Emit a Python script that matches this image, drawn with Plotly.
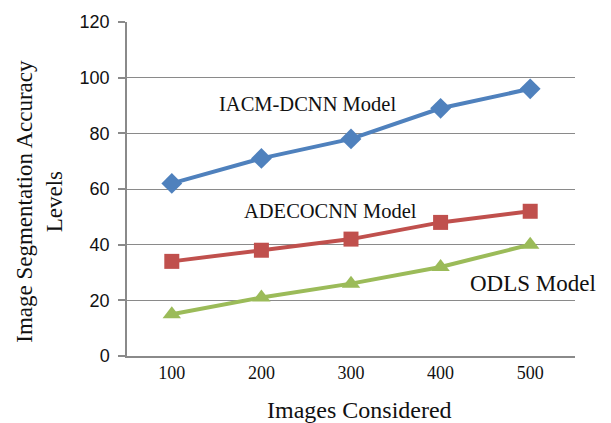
import plotly.graph_objects as go

# Images considered (x categories) and segmentation accuracy per model
images = ["100", "200", "300", "400", "500"]
iacm_dcnn = [62, 71, 78, 89, 96]
adecocnn = [34, 38, 42, 48, 52]
odls = [15, 21, 26, 32, 40]

y_ticks = [0, 20, 40, 60, 80, 100, 120]

SERIF = "Liberation Serif, Times New Roman, serif"
SANS = "Liberation Sans, Arial, sans-serif"
AXIS_GREY = "#8a8a8a"

fig = go.Figure()

series = [
    ("IACM-DCNN Model", iacm_dcnn, "#4F81BD", "diamond", 16),
    ("ADECOCNN Model", adecocnn, "#C0504D", "square", 15),
    ("ODLS Model", odls, "#9BBB59", "triangle-up", 16),
]
for name, vals, color, symbol, size in series:
    fig.add_trace(go.Scatter(
        x=images, y=vals, name=name, mode="lines+markers",
        line=dict(color=color, width=4),
        marker=dict(symbol=symbol, size=size, color=color),
    ))

# In-chart series labels
fig.add_annotation(x=1.51, y=90.5, text="IACM-DCNN Model", showarrow=False,
                   font=dict(family=SERIF, size=20.5, color="#111"))
fig.add_annotation(x=1.77, y=52, text="ADECOCNN Model", showarrow=False,
                   font=dict(family=SERIF, size=20.5, color="#111"))
fig.add_annotation(x=4.03, y=26, text="ODLS Model", showarrow=False,
                   font=dict(family=SERIF, size=23, color="#111"))

# Axis titles
fig.add_annotation(xref="paper", yref="paper", x=0.52, y=-0.163,
                   text="Images Considered", showarrow=False,
                   xanchor="center", yanchor="middle",
                   font=dict(family=SERIF, size=24, color="#111"))
fig.add_annotation(xref="paper", yref="paper", x=-0.197, y=0.464,
                   text="Image Segmentation Accuracy<br>Levels", showarrow=False,
                   textangle=-90, xanchor="center", yanchor="middle",
                   font=dict(family=SERIF, size=23, color="#111"))

fig.update_layout(
    width=611, height=423,
    margin=dict(l=127, r=36, t=20, b=67),
    paper_bgcolor="white", plot_bgcolor="white",
    showlegend=False,
    font=dict(family=SERIF, size=15, color="#111"),
)
fig.update_xaxes(
    type="category", range=[-0.5, 4.5],
    showgrid=False, showline=True, linecolor=AXIS_GREY, linewidth=1.5,
    ticks="", tickfont=dict(family=SERIF, size=18, color="#111"),
)
fig.update_yaxes(
    range=[0, 120], tickvals=y_ticks,
    showgrid=True, gridcolor=AXIS_GREY, gridwidth=1.2,
    showline=True, linecolor=AXIS_GREY, linewidth=1.5,
    ticks="outside", ticklen=7, tickcolor=AXIS_GREY, tickwidth=1.5,
    ticklabelstandoff=5,
    tickfont=dict(family=SANS, size=18, color="#111"), zeroline=False,
)

fig.write_html("out.html")
